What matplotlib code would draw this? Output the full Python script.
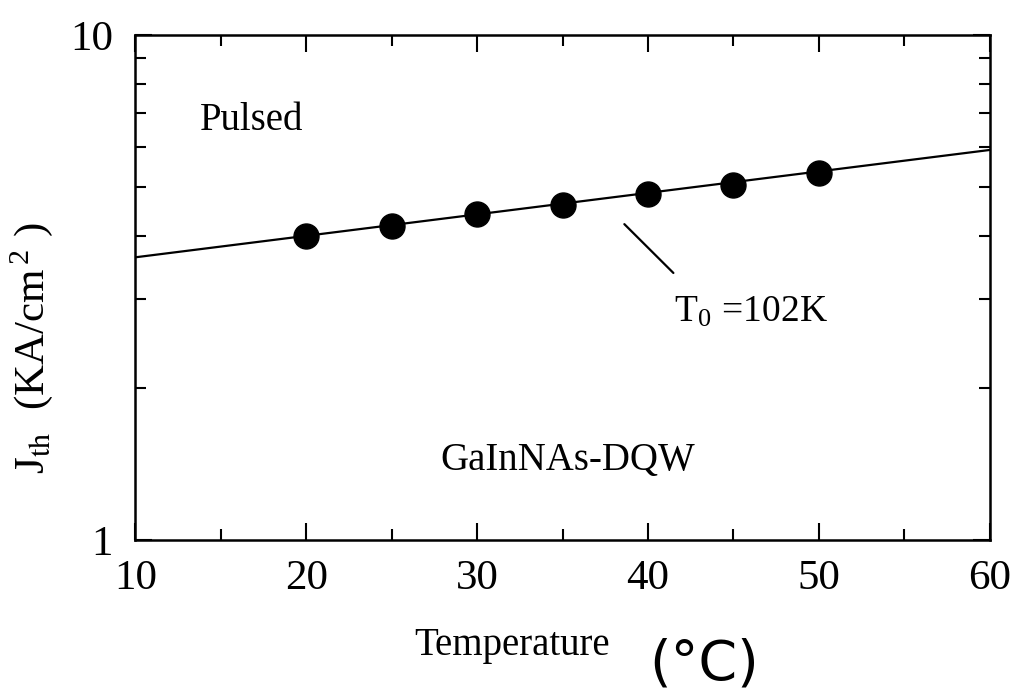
import matplotlib
matplotlib.use("Agg")
import matplotlib.pyplot as plt
from matplotlib.ticker import FixedLocator, FixedFormatter, NullFormatter

# measured threshold current densities
temperature = [20, 25, 30, 35, 40, 45, 50]
jth = [4.0, 4.18, 4.43, 4.60, 4.84, 5.04, 5.33]

# fitted line (T0 = 102 K), straight on the log axis
fit_temperature = [10, 60]
fit_jth = [3.63, 5.92]

x_major = [10, 20, 30, 40, 50, 60]
x_minor = [15, 25, 35, 45, 55]
y_major = [1, 10]
y_minor = [2, 3, 4, 5, 6, 7, 8, 9]

plt.rcParams['font.family'] = ['Liberation Serif', 'DejaVu Serif']
plt.rcParams['mathtext.fontset'] = 'stix'

fig = plt.figure(figsize=(10.1, 6.98), dpi=100)
ax = fig.add_axes([0.134, 0.226, 0.846, 0.724])

ax.plot(fit_temperature, fit_jth, color='black', lw=1.6, zorder=2)
ax.plot(temperature, jth, 'o', color='black', ms=18, zorder=3)

ax.set_yscale('log')
ax.set_xlim(10, 60)
ax.set_ylim(1, 10)

ax.xaxis.set_major_locator(FixedLocator(x_major))
ax.xaxis.set_minor_locator(FixedLocator(x_minor))
ax.yaxis.set_major_locator(FixedLocator(y_major))
ax.yaxis.set_major_formatter(FixedFormatter([str(v) for v in y_major]))
ax.yaxis.set_minor_locator(FixedLocator(y_minor))
ax.yaxis.set_minor_formatter(NullFormatter())

ax.tick_params(which='both', direction='in', top=True, right=True, width=1.5)
ax.tick_params(which='major', length=12, labelsize=31, pad=14)
ax.tick_params(which='minor', length=8)
ax.tick_params(axis='y', which='major', pad=16)
for s in ax.spines.values():
    s.set_linewidth(1.8)

ax.text(0.075, 0.83, 'Pulsed', transform=ax.transAxes, fontsize=28, va='center')
ax.text(0.357, 0.158, 'GaInNAs-DQW', transform=ax.transAxes, fontsize=28, va='center')
ax.annotate('', xy=(38.5, 4.26), xytext=(41.6, 3.35),
            arrowprops=dict(arrowstyle='-', color='black', lw=1.6))
ax.text(41.5, 2.82, 'T$_{\\mathregular{0}}$ =102K', fontsize=27, va='center')

ax.set_ylabel('J$_{\\mathrm{th}}$  (KA/cm$^{\\,\\mathregular{2}}$ )', fontsize=31)
ax.yaxis.set_label_coords(-0.094, 0.38)

fig.text(0.41, 0.075, 'Temperature', fontsize=28, va='center')
fig.text(0.643, 0.048, '(°C)', fontsize=40, va='center', family='DejaVu Sans')

fig.savefig('out.png', dpi=100)
